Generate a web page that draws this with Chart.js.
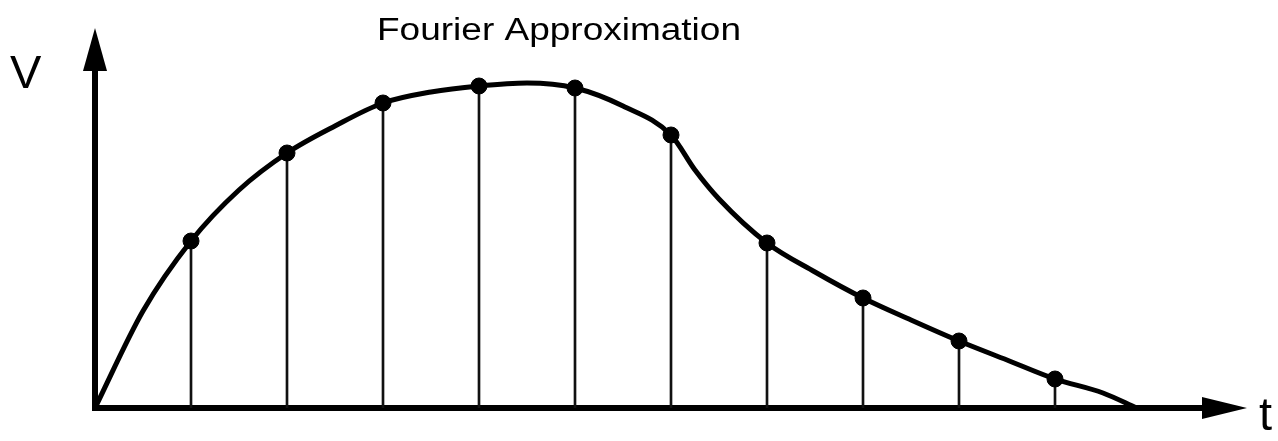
<!DOCTYPE html>
<html>
<head>
<meta charset="utf-8">
<script src="https://cdn.jsdelivr.net/npm/chart.js@4.4.1/dist/chart.umd.min.js"></script>
<style>
  html, body { margin: 0; padding: 0; background: #fff; }
  #wrap { width: 1278px; height: 441px; position: relative; }
</style>
</head>
<body>
<div id="wrap"><canvas id="chart"></canvas></div>
<script>
const sampleT = [1, 2, 3, 4, 5, 6, 7, 8, 9, 10]
const sampleV = [1.67, 2.55, 3.05, 3.22, 3.20, 2.73, 1.65, 1.10, 0.67, 0.29]

// the continuous curve, drawn through finer points
const curveT = [0, 0.5, 1, 1.5, 2, 2.5, 3, 3.5, 4, 4.5, 5, 5.5, 6, 6.25, 6.5, 7, 7.5, 8, 8.5, 9, 9.5, 10, 10.5, 10.85]
const curveV = [0, 0.97, 1.67, 2.18, 2.55, 2.82, 3.05, 3.16, 3.22, 3.25, 3.20, 3.02, 2.73, 2.38, 2.09, 1.65, 1.36, 1.10, 0.88, 0.67, 0.48, 0.29, 0.15, 0]

const titleText = 'Fourier Approximation'
const yLabel = 'V'
const xLabel = 't'

const tMax = 12
const vMax = 3.8

const curveData = curveT.map((t, i) => ({ x: t, y: curveV[i] }))
const sampleData = sampleT.map((t, i) => ({ x: t, y: sampleV[i] }))

// axes with arrow heads, plus the title and axis letters
const axesPlugin = {
  id: 'arrowAxes',
  beforeDatasetsDraw(chart) {
    const { ctx, scales } = chart
    const x0 = scales.x.getPixelForValue(0)
    const y0 = scales.y.getPixelForValue(0)
    const xEnd = scales.x.getPixelForValue(tMax)
    const yEnd = scales.y.getPixelForValue(vMax)
    ctx.save()
    ctx.fillStyle = '#000'
    ctx.strokeStyle = '#000'
    ctx.lineWidth = 6
    ctx.lineCap = 'butt'
    ctx.beginPath()
    ctx.moveTo(x0, y0 + 3)
    ctx.lineTo(x0, yEnd + 40)
    ctx.moveTo(x0 - 3, y0)
    ctx.lineTo(xEnd - 40, y0)
    ctx.stroke()
    // up arrow
    ctx.beginPath()
    ctx.moveTo(x0, yEnd)
    ctx.lineTo(x0 - 12, yEnd + 43)
    ctx.lineTo(x0 + 12, yEnd + 43)
    ctx.closePath()
    ctx.fill()
    // right arrow
    ctx.beginPath()
    ctx.moveTo(xEnd, y0)
    ctx.lineTo(xEnd - 45, y0 - 11)
    ctx.lineTo(xEnd - 45, y0 + 11)
    ctx.closePath()
    ctx.fill()
    ctx.restore()
  },
  afterDraw(chart) {
    const { ctx } = chart
    ctx.save()
    ctx.fillStyle = '#000'
    ctx.textBaseline = 'alphabetic'
    ctx.textAlign = 'left'
    ctx.font = '31px "Liberation Sans", Arial, sans-serif'
    const w = ctx.measureText(titleText).width
    ctx.translate(377, 40)
    ctx.scale(364 / w, 1)
    ctx.fillText(titleText, 0, 0)
    ctx.restore()

    ctx.save()
    ctx.fillStyle = '#000'
    ctx.font = '47px "Liberation Sans", Arial, sans-serif'
    ctx.textAlign = 'left'
    ctx.fillText(yLabel, 10, 88)
    ctx.fillText(xLabel, 1259, 430)
    ctx.restore()
  }
}

new Chart(document.getElementById('chart'), {
  data: {
    datasets: [
      {
        type: 'line',
        data: curveData,
        borderColor: '#000',
        borderWidth: 5,
        pointRadius: 0,
        cubicInterpolationMode: 'monotone',
        order: 2
      },
      {
        type: 'bar',
        data: sampleData,
        backgroundColor: '#111',
        barThickness: 2,
        order: 3
      },
      {
        type: 'scatter',
        data: sampleData,
        backgroundColor: '#000',
        borderColor: '#000',
        pointRadius: 8,
        order: 1
      }
    ]
  },
  options: {
    responsive: true,
    maintainAspectRatio: false,
    animation: false,
    layout: { padding: { left: 95, top: 28, right: 31, bottom: 33 } },
    plugins: { legend: { display: false }, tooltip: { enabled: false }, title: { display: false } },
    scales: {
      x: { type: 'linear', min: 0, max: tMax, display: false, offset: false },
      y: { type: 'linear', min: 0, max: vMax, display: false }
    }
  },
  plugins: [axesPlugin]
})
</script>
</body>
</html>
